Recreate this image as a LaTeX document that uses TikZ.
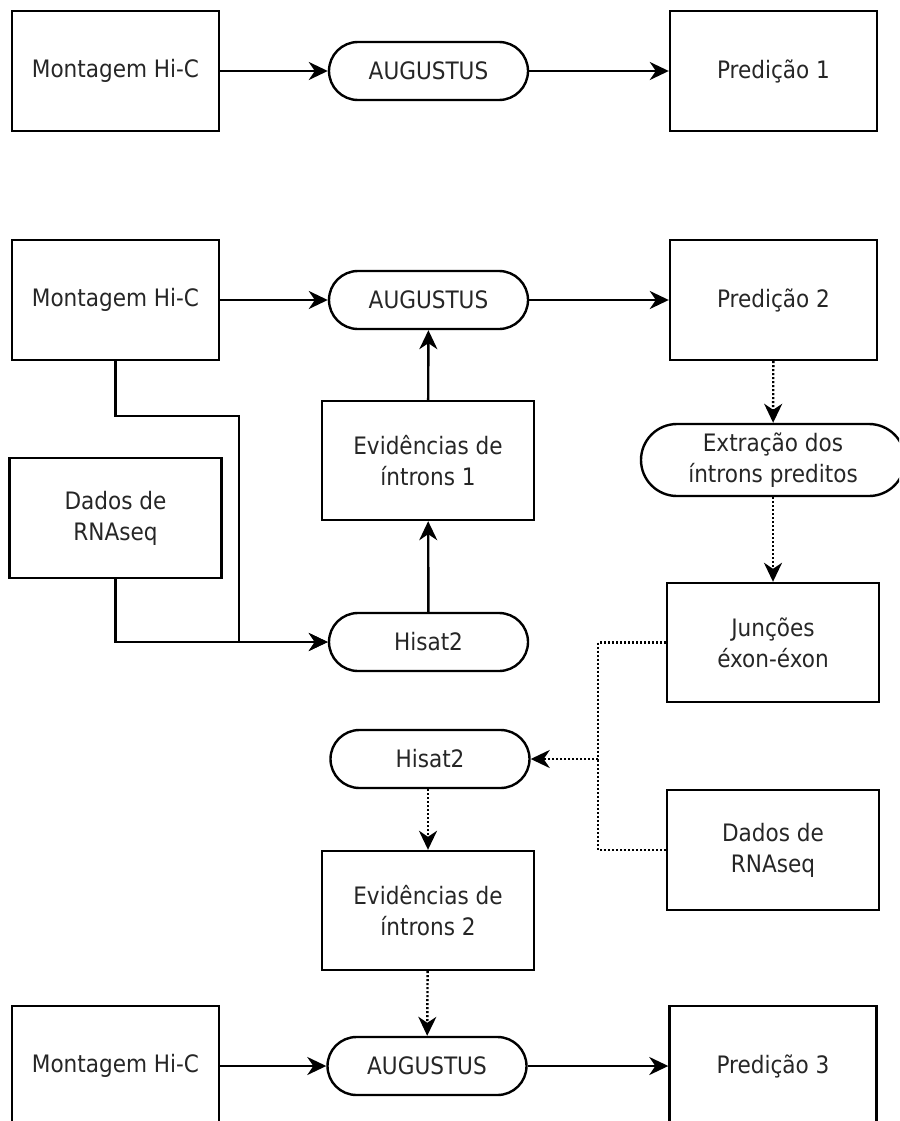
\documentclass[tikz,border=0pt]{standalone}
\usepackage{fontspec}
\setmainfont{DejaVu Sans Condensed}
\usetikzlibrary{arrows.meta}

\begin{document}
\begin{tikzpicture}[x=1pt,y=-1pt,
  box/.style={draw,line width=2.4pt,minimum width=207pt,minimum height=120pt,align=center,inner sep=0pt},
  tool/.style={draw,line width=2.4pt,rounded corners=29pt,minimum width=199pt,minimum height=58pt,align=center,inner sep=0pt},
  tip/.style={-{Stealth[length=19pt,width=18pt,inset=6pt]}},
  flow/.style={line width=2.4pt,tip},
  link/.style={line width=2.4pt},
  dots/.style={line width=2.4pt,dash pattern=on 2pt off 2pt}]
\useasboundingbox (0,0) rectangle (899,1121);
\clip (0,0) rectangle (899,1121);
\tikzset{every node/.style={font=\fontsize{24}{31}\selectfont,text=black!85}}

% first run
\node[box] (hic1) at (115.5,71) {Montagem Hi-C};
\node[tool] (aug1) at (428.5,71) {AUGUSTUS};
\node[box] (pred1) at (773.5,71) {Predição 1};

\draw[flow] (hic1) -- (aug1);
\draw[flow] (aug1) -- (pred1);

% second run
\node[box] (hic2) at (115.5,300) {Montagem Hi-C};
\node[tool] (aug2) at (428.5,300) {AUGUSTUS};
\node[box] (pred2) at (773.5,300) {Predição 2};
\node[box,minimum width=212pt,minimum height=119pt] (ev1) at (428,460.5) {Evidências de\\íntrons 1};
\node[box,minimum width=212pt] (rna1) at (115.5,518) {Dados de\\RNAseq};
\node[tool] (hisat1) at (428.5,642) {Hisat2};
\node[tool,rounded corners=36pt,minimum width=264pt,minimum height=72pt] (ext) at (773,460) {Extração dos\\íntrons preditos};
\node[box,minimum width=212pt,minimum height=119pt] (junc) at (773,642.5) {Junções\\éxon-éxon};

\coordinate (j1) at (239,416);

\draw[flow] (hic2) -- (aug2);
\draw[flow] (aug2) -- (pred2);
\draw[flow] (ev1) -- (aug2);
\draw[flow] (hisat1) -- (ev1);
\draw[flow] (hic2.south) |- (j1) |- (hisat1.west);
\draw[flow] (rna1.south) |- (hisat1.west);

\draw[dots,tip] (pred2) -- (ext);
\draw[dots,tip] (ext) -- (junc);

% third run
\node[tool] (hisat2) at (430,759) {Hisat2};
\node[box,minimum width=212pt] (rna2) at (773,850) {Dados de\\RNAseq};
\node[box,minimum width=212pt,minimum height=119pt] (ev2) at (428,910.5) {Evidências de\\íntrons 2};
\node[box] (hic3) at (115.5,1066) {Montagem Hi-C};
\node[tool] (aug3) at (427,1066) {AUGUSTUS};
\node[box] (pred3) at (773,1066) {Predição 3};

\coordinate (j2) at (598,759);

\draw[dots] (junc.west) -| (j2);
\draw[dots] (rna2.west) -| (j2);
\draw[dots,tip] (j2) -- (hisat2);
\draw[dots,tip] (hisat2.south -| ev2.north) -- (ev2);
\draw[dots,tip] (ev2) -- (aug3);

\draw[flow] (hic3) -- (aug3);
\draw[flow] (aug3) -- (pred3);

\end{tikzpicture}
\end{document}
